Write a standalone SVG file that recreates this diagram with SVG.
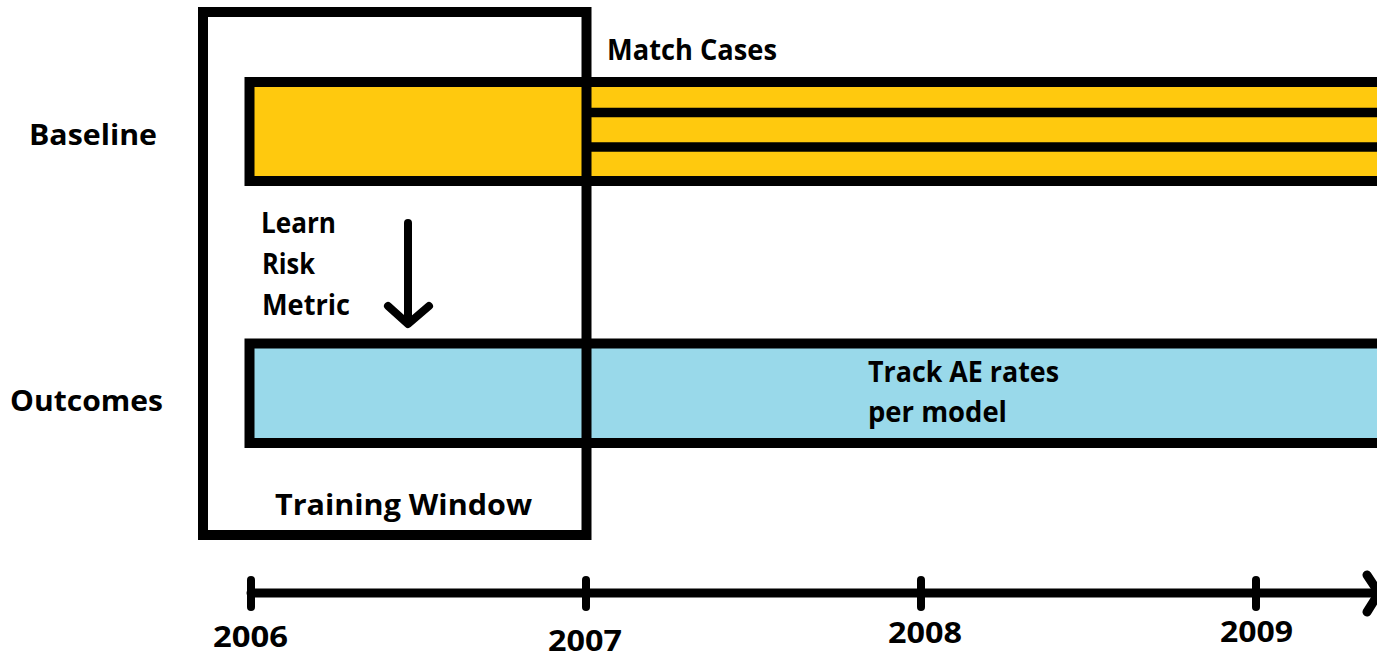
<svg xmlns="http://www.w3.org/2000/svg" width="1377" height="658" viewBox="0 0 1377 658">
<style>
.t{font-family:"Open Sans","Liberation Sans",sans-serif;font-weight:bold;fill:#000;font-size:29px}
.box{stroke:#000;stroke-width:10}
.ln{stroke:#000;stroke-width:9;stroke-linecap:round;stroke-linejoin:round;fill:none}
</style>
<rect width="1377" height="658" fill="#fff"/>
<g id="baseline-label"><text class="t" x="29" y="145" font-size="30" textLength="128" lengthAdjust="spacingAndGlyphs">Baseline</text></g>
<g id="outcomes-label"><text class="t" x="10" y="411" font-size="30" textLength="153" lengthAdjust="spacingAndGlyphs">Outcomes</text></g>
<g id="baseline-bar">
<rect class="box" x="249.5" y="82" width="1160" height="99" fill="#FFC90E"/>
<line x1="586" y1="112.5" x2="1400" y2="112.5" stroke="#000" stroke-width="9.5"/>
<line x1="586" y1="147" x2="1400" y2="147" stroke="#000" stroke-width="9.5"/>
</g>
<g id="outcomes-bar">
<rect class="box" x="249.5" y="343.5" width="1160" height="99.5" fill="#99D9EA"/>
<text class="t" x="868" y="382" textLength="191" lengthAdjust="spacingAndGlyphs">Track AE rates</text>
<text class="t" x="868" y="422" textLength="139" lengthAdjust="spacingAndGlyphs">per model</text>
</g>
<g id="training-window">
<rect class="box" x="203" y="12" width="383.5" height="523" fill="none"/>
<text class="t" x="275" y="515" textLength="257" lengthAdjust="spacingAndGlyphs">Training Window</text>
</g>
<g id="match-cases"><text class="t" x="607" y="60" textLength="170" lengthAdjust="spacingAndGlyphs">Match Cases</text></g>
<g id="learn-risk-metric">
<text class="t" x="261" y="233" font-size="28" textLength="75" lengthAdjust="spacingAndGlyphs">Learn</text>
<text class="t" x="262" y="274" font-size="28" textLength="53" lengthAdjust="spacingAndGlyphs">Risk</text>
<text class="t" x="262" y="315" font-size="28" textLength="88" lengthAdjust="spacingAndGlyphs">Metric</text>
</g>
<g id="connectors">
<g class="ln" style="stroke-width:8">
<line x1="408" y1="223" x2="408" y2="322"/>
<polyline points="388,306 408,324 429,306"/>
</g>
</g>
<g id="timeline">
<g class="ln">
<line x1="251" y1="593" x2="1380" y2="593"/>
<polyline points="1367,575 1379,593 1367,612"/>
</g>
<g class="ln" style="stroke-width:8">
<line x1="251" y1="580" x2="251" y2="607"/>
<line x1="586" y1="580" x2="586" y2="607"/>
<line x1="921" y1="580" x2="921" y2="607"/>
<line x1="1256" y1="580" x2="1256" y2="607"/>
</g>
<text class="t" x="213" y="647" textLength="75" lengthAdjust="spacingAndGlyphs">2006</text>
<text class="t" x="548" y="651" font-size="28" textLength="74" lengthAdjust="spacingAndGlyphs">2007</text>
<text class="t" x="888" y="643" textLength="74" lengthAdjust="spacingAndGlyphs">2008</text>
<text class="t" x="1220" y="642" textLength="73" lengthAdjust="spacingAndGlyphs">2009</text>
</g>
</svg>
